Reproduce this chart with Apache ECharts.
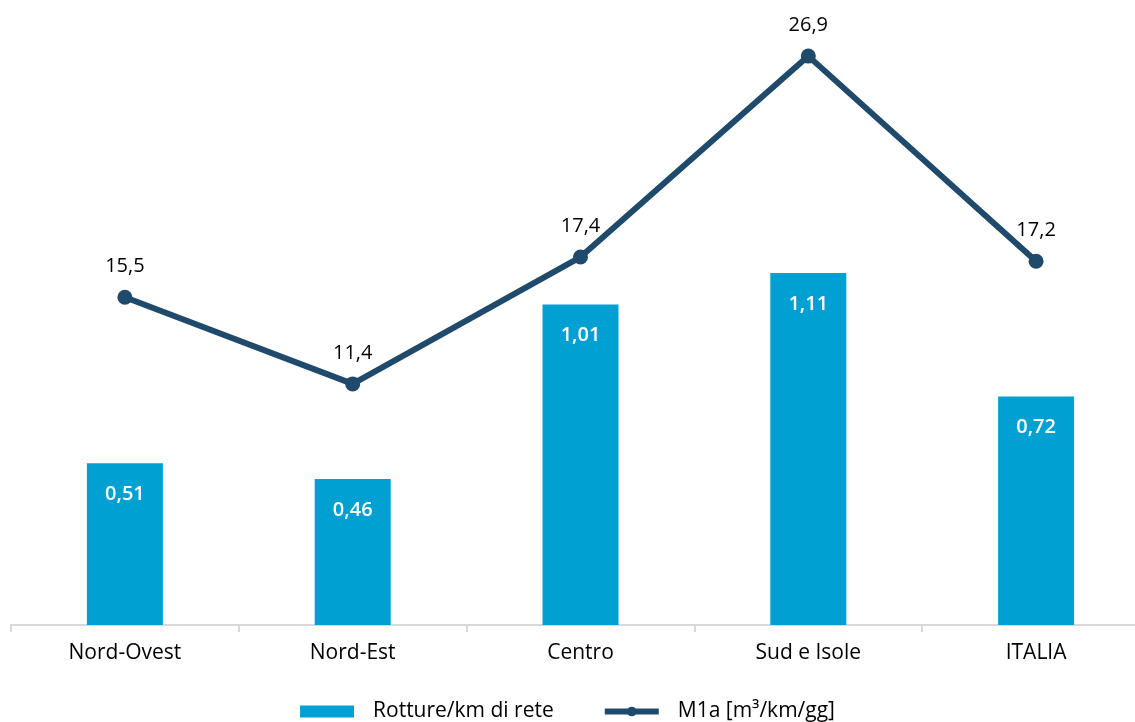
<!DOCTYPE html>
<html lang="it">
<head>
    <meta charset="UTF-8">
    <title>Rotture e M1a</title>
    <style>
        html, body { margin: 0; padding: 0; background: #fff; }
    </style>
</head>
<body>
    <div id="main" style="width: 1135px; height: 722px;"></div>
</body>
<script src="https://cdn.jsdelivr.net/npm/echarts@6/dist/echarts.min.js"></script>
<script>
    var categories = ["Nord-Ovest", "Nord-Est", "Centro", "Sud e Isole", "ITALIA"];
    var rotture = [0.51, 0.46, 1.01, 1.11, 0.72];
    var m1a = [15.5, 11.4, 17.4, 26.9, 17.2];

    var font = 'Open Sans';

    var myChart = echarts.init(document.getElementById("main"));
    var option = {
        textStyle: { fontFamily: font },
        animation: false,
        grid: { left: 11, width: 1139, top: 54, bottom: 97, containLabel: false, outerBoundsMode: 'none' },
        legend: {
            bottom: -5,
            left: 'center',
            itemGap: 48,
            itemWidth: 54,
            itemHeight: 12,
            textStyle: { fontSize: 21, color: '#000', fontFamily: font, padding: [0, 0, 0, 14] },
            data: [
                { name: 'Rotture/km di rete', icon: 'rect' },
                { name: 'M1a [m³/km/gg]', lineStyle: { width: 6 } }
            ]
        },
        xAxis: {
            type: 'category',
            data: categories,
            axisLine: { lineStyle: { color: '#d9d9d9', width: 2 } },
            axisTick: { show: true, length: 7, lineStyle: { color: '#d9d9d9', width: 2 } },
            axisLabel: { fontSize: 21, color: '#000', margin: 18 }
        },
        yAxis: [
            { type: 'value', min: 0, max: 1.8, show: false },
            { type: 'value', min: 0, max: 27, show: false }
        ],
        series: [{
            name: 'Rotture/km di rete',
            type: 'bar',
            yAxisIndex: 0,
            barWidth: 76,
            itemStyle: { color: '#00a0d3' },
            label: {
                show: true,
                position: 'insideTop',
                distance: 21,
                color: '#fff',
                fontSize: 20,
                fontWeight: 600,
                formatter: function (p) { return p.value.toFixed(2).replace('.', ','); }
            },
            data: rotture
        }, {
            name: 'M1a [m³/km/gg]',
            type: 'line',
            yAxisIndex: 1,
            symbol: 'circle',
            symbolSize: 15,
            lineStyle: { color: '#1f4a6b', width: 6 },
            itemStyle: { color: '#1f4a6b' },
            label: {
                show: true,
                position: 'top',
                distance: 13,
                color: '#000',
                fontSize: 20,
                formatter: function (p) { return p.value.toFixed(1).replace('.', ','); }
            },
            data: m1a
        }]
    };
    myChart.setOption(option);
</script>
</html>
